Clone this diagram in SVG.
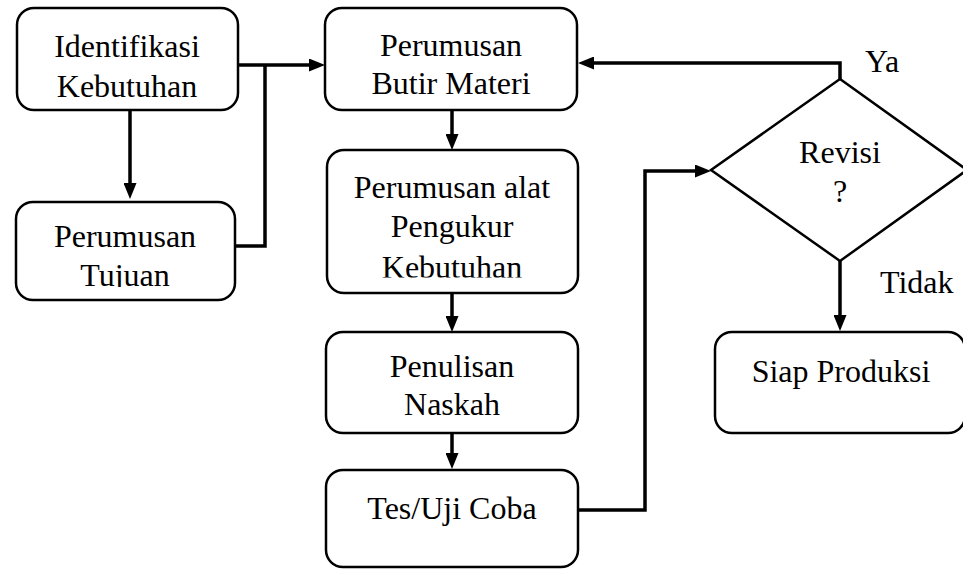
<svg xmlns="http://www.w3.org/2000/svg" width="963" height="569" viewBox="0 0 963 569">
  <style>
    .box { fill: #ffffff; stroke: #000000; stroke-width: 2.5; }
    .wire { fill: none; stroke: #000000; stroke-width: 3.5; }
    .arrow { marker-end: url(#head); }
    text { font-family: 'Liberation Serif', 'Times New Roman', serif; font-size: 32px; fill: #000000; text-anchor: middle; }
    text.side { text-anchor: start; }
  </style>
  <defs>
    <marker id="head" markerUnits="userSpaceOnUse" markerWidth="16" markerHeight="13" refX="3" refY="6.5" orient="auto">
      <path d="M0,0 L16,6.5 L0,13 Z" fill="#000000"/>
    </marker>
    <clipPath id="clipTujuan"><rect x="17" y="202" width="218" height="85"/></clipPath>
    <clipPath id="clipAlat"><rect x="327" y="150" width="251" height="127.5"/></clipPath>
  </defs>
  <rect width="963" height="569" fill="#ffffff"/>

  <!-- connectors: thick black elbow lines with filled arrowheads -->
  <g id="connectors">
    <path class="wire arrow" d="M130,111 V186"/>
    <path class="wire arrow" d="M238,65 H312"/>
    <path class="wire" d="M235,246 H265 V65"/>
    <path class="wire arrow" d="M452,111 V137"/>
    <path class="wire arrow" d="M452,293 V319"/>
    <path class="wire arrow" d="M452,433 V456"/>
    <path class="wire arrow" d="M578,510 H645 V171 H698"/>
    <path class="wire arrow" d="M840,79 V63 H591"/>
    <path class="wire arrow" d="M840,261 V318"/>
  </g>

  <g id="identifikasi">
    <rect class="box" x="17" y="8" width="221" height="102" rx="17"/>
    <text x="127" y="57">Identifikasi</text>
    <text x="127" y="97">Kebutuhan</text>
  </g>

  <g id="tujuan">
    <rect class="box" x="16" y="202" width="219" height="98" rx="17"/>
    <g clip-path="url(#clipTujuan)">
      <text x="125" y="247">Perumusan</text>
      <text x="125" y="286">Tujuan</text>
    </g>
  </g>

  <g id="butir">
    <rect class="box" x="325" y="8" width="252" height="102" rx="17"/>
    <text x="451" y="56">Perumusan</text>
    <text x="451" y="94">Butir Materi</text>
  </g>

  <g id="alat">
    <rect class="box" x="327" y="150" width="251" height="143" rx="17"/>
    <g clip-path="url(#clipAlat)">
      <text x="452" y="198">Perumusan alat</text>
      <text x="452" y="237">Pengukur</text>
      <text x="452" y="278">Kebutuhan</text>
    </g>
  </g>

  <g id="naskah">
    <rect class="box" x="326" y="332" width="252" height="101" rx="17"/>
    <text x="452" y="377">Penulisan</text>
    <text x="452" y="415">Naskah</text>
  </g>

  <g id="ujicoba">
    <rect class="box" x="326" y="470" width="252" height="97" rx="17"/>
    <text x="452" y="519">Tes/Uji Coba</text>
  </g>

  <g id="revisi">
    <path class="box" d="M840,79 L967,170 L840,261 L711,170 Z"/>
    <text x="840" y="163">Revisi</text>
    <text x="840" y="202">?</text>
    <text class="side" x="865" y="72">Ya</text>
    <text class="side" x="880" y="293">Tidak</text>
  </g>

  <g id="produksi">
    <rect class="box" x="715" y="332" width="250" height="101" rx="17"/>
    <text x="841" y="382">Siap Produksi</text>
  </g>
</svg>
